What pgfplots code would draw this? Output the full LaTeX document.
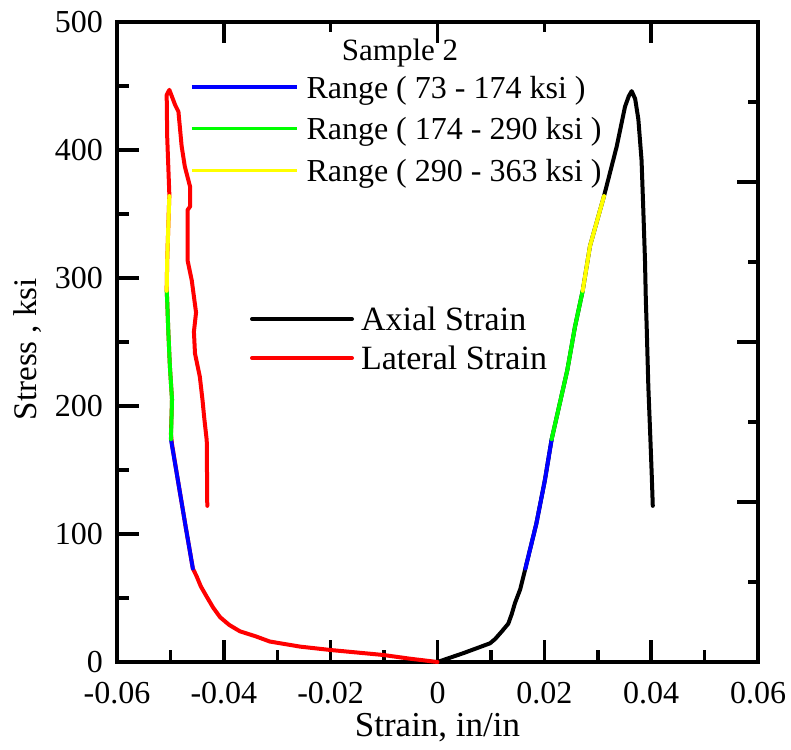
\documentclass[border=0pt]{standalone}
\usepackage{fontspec}
\setmainfont{Liberation Serif}
\usepackage{pgfplots}
\pgfplotsset{compat=1.18}
\definecolor{pblue}{RGB}{0,0,255}
\definecolor{pgreen}{RGB}{0,255,0}
\definecolor{pyellow}{RGB}{255,255,0}
\definecolor{pred}{RGB}{255,0,0}
\begin{document}
\begin{tikzpicture}
\path[use as bounding box] (0,0) rectangle (791pt,749pt);
\begin{axis}[
  at={(117pt,87pt)}, anchor=south west,
  scale only axis, width=641pt, height=640pt,
  xmin=-0.06, xmax=0.06, ymin=0, ymax=500,
  clip=false, scaled x ticks=false, scaled y ticks=false,
  xtick={-0.06,-0.04,-0.02,0,0.02,0.04,0.06},
  xticklabels={-0.06,-0.04,-0.02,0,0.02,0.04,0.06},
  minor xtick={-0.05,-0.03,-0.01,0.01,0.03,0.05},
  ytick={0,100,200,300,400,500},
  yticklabels={0,100,200,300,400,500},
  minor ytick={50,150,250,350,450},
  xtick pos=left, ytick pos=left,
  tick align=inside,
  major tick length=22pt, minor tick length=12pt,
  tick style={black, line width=3.5pt},
  axis line style={line width=4pt, line cap=rect},
  ticklabel style={font=\fontsize{32}{37}\selectfont, inner sep=0pt},
  xticklabel style={yshift=-20pt},
  yticklabel style={xshift=-14pt},
  xlabel={Strain, in/in}, ylabel={Stress , ksi},
  xlabel style={font=\fontsize{35}{40}\selectfont, at={(axis description cs:0.5,-0.117)}, anchor=base},
  ylabel style={font=\fontsize{33}{38}\selectfont, at={(axis description cs:-0.139,0.489)}, anchor=center},
  legend cell align=left,
  legend image code/.code={\draw[#1] (0pt,0pt) -- (100pt,0pt);},
  legend style={at={(axis description cs:0.2075,0.5531)}, anchor=north west,
    draw=none, fill=none, inner sep=0pt, outer sep=0pt,
    row sep=17pt, column sep=7pt,
    nodes={inner sep=0pt, outer sep=0pt, text height=22pt, text depth=0pt},
    font=\fontsize{34}{38}\selectfont},
  every axis plot/.append style={line width=4pt, line join=round, line cap=round},
]
\addplot[black] coordinates {
(0,0) (0.0049,7) (0.00983,14.6) (0.0108,18) (0.0120,23.7) (0.01326,30)
(0.0139,37.5) (0.0145,46) (0.0155,57) (0.01645,73) (0.0185,108) (0.0201,142)
(0.02137,174) (0.0243,228) (0.02574,262) (0.02718,290) (0.02855,325)
(0.03117,364) (0.03354,402.6) (0.0351,433.8) (0.0358,442) (0.03635,446)
(0.0370,440) (0.0376,424) (0.0382,392) (0.03853,353) (0.03884,314)
(0.0390,283) (0.03916,262) (0.03947,215) (0.0398,180) (0.0401,147) (0.0403,122)
};
\addlegendentry{Axial Strain}
\addplot[pred] coordinates {
(0,0) (-0.0050,2.5) (-0.0102,5.5) (-0.0201,9.4) (-0.0257,12) (-0.0314,16)
(-0.0340,20) (-0.0370,24) (-0.0390,29) (-0.0407,35) (-0.0420,42.5)
(-0.0432,51) (-0.0443,59) (-0.0451,67) (-0.0458,73)
(-0.0472,107) (-0.0486,142) (-0.0497,170) (-0.0499,178) (-0.0497,205)
(-0.0501,231) (-0.0504,259) (-0.0506,282) (-0.0507,291) (-0.0506,314)
(-0.0504,340) (-0.0502,365) (-0.0506,410) (-0.0507,443) (-0.0502,447)
(-0.0491,435) (-0.0485,430) (-0.0479,403) (-0.0473,387) (-0.0463,371)
(-0.0463,356) (-0.0468,353) (-0.0468,314) (-0.0460,298) (-0.0452,273)
(-0.0456,258) (-0.0454,241) (-0.0445,223) (-0.0440,205) (-0.0437,192)
(-0.0432,173) (-0.0431,122)
};
\addlegendentry{Lateral Strain}
% range overlays, lateral
\addplot[pblue, forget plot] coordinates {(-0.0458,73) (-0.0472,107) (-0.0486,142) (-0.0499,174)};
\addplot[pgreen, forget plot] coordinates {(-0.0499,174) (-0.0497,205) (-0.0501,231) (-0.0504,259) (-0.0506,282) (-0.0507,290)};
\addplot[pyellow, forget plot] coordinates {(-0.0507,290) (-0.0506,314) (-0.0504,340) (-0.0502,364)};
% range overlays, axial
\addplot[pblue, forget plot] coordinates {(0.01645,73) (0.0185,108) (0.0201,142) (0.02137,174)};
\addplot[pgreen, forget plot] coordinates {(0.02137,174) (0.0243,228) (0.02574,262) (0.02718,290)};
\addplot[pyellow, forget plot] coordinates {(0.02718,290) (0.02855,325) (0.03117,364)};
\end{axis}
\begin{axis}[
  at={(117pt,87pt)}, anchor=south west,
  scale only axis, width=641pt, height=640pt,
  xmin=-0.06, xmax=0.06, ymin=0, ymax=500,
  scaled x ticks=false, scaled y ticks=false,
  axis line style={draw=none},
  xtick={-0.04,0,0.04}, minor xtick={-0.02,0.02},
  ytick={125,250,375,500}, minor ytick={62.5,187.5,312.5,437.5},
  xticklabels={}, yticklabels={},
  xtick pos=right, ytick pos=right,
  tick align=inside,
  major tick length=21pt, minor tick length=10pt,
  tick style={black, line width=3.5pt},
  legend cell align=left,
  legend image code/.code={\draw[#1] (0pt,0pt) -- (105pt,0pt);},
  legend style={at={(axis description cs:0.1139,0.9156)}, anchor=north west,
    draw=none, fill=none, inner sep=0pt, outer sep=0pt,
    row sep=19.7pt, column sep=8pt,
    nodes={inner sep=0pt, outer sep=0pt, text height=22pt, text depth=0pt},
    font=\fontsize{32}{37}\selectfont},
]
\addlegendimage{pblue, line width=3.5pt}
\addlegendentry{Range ( 73 - 174 ksi )}
\addlegendimage{pgreen, line width=3.5pt}
\addlegendentry{Range ( 174 - 290 ksi )}
\addlegendimage{pyellow, line width=3.5pt}
\addlegendentry{Range ( 290 - 363 ksi )}
\node[anchor=base, font=\fontsize{31}{36}\selectfont, inner sep=0pt] at (axis description cs:0.4415,0.9406) {Sample 2};
\end{axis}
\end{tikzpicture}
\end{document}
